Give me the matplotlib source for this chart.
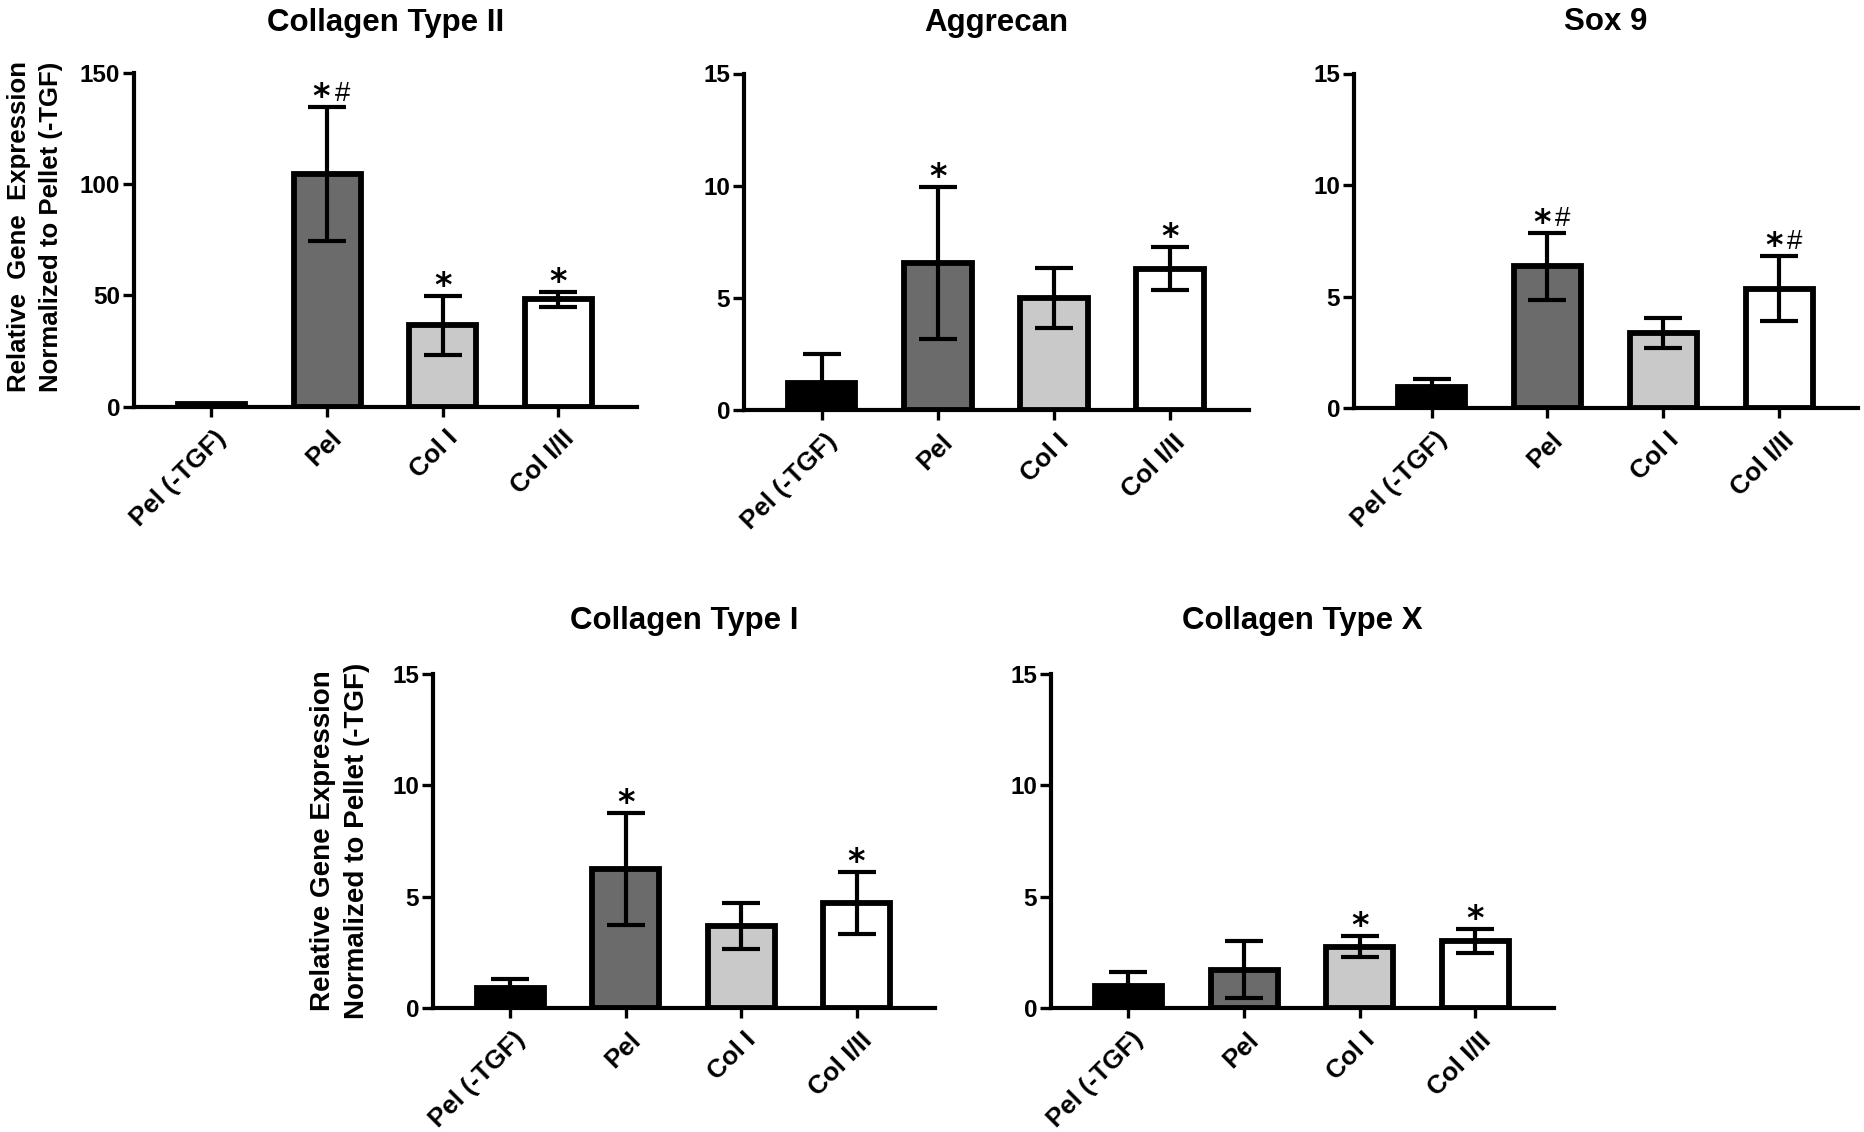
import matplotlib
matplotlib.use("Agg")
import matplotlib.pyplot as plt
from matplotlib.transforms import ScaledTranslation

plt.rcParams['font.family'] = ['Liberation Sans', 'DejaVu Sans']

categories = ['Pel (-TGF)', 'Pel', 'Col I', 'Col I/II']
bar_colors = ['#000000', '#6b6b6b', '#c9c9c9', '#ffffff']

col2_mean = [1.0, 104.5, 36.5, 48.2]
col2_err = [0.3, 30.0, 13.2, 3.5]
col2_sig = ['', '*#', '*', '*']

agg_mean = [1.2, 6.55, 5.0, 6.3]
agg_err = [1.3, 3.4, 1.35, 0.95]
agg_sig = ['', '*', '', '*']

sox9_mean = [0.92, 6.35, 3.35, 5.35]
sox9_err = [0.38, 1.5, 0.68, 1.45]
sox9_sig = ['', '*#', '', '*#']

col1_mean = [0.92, 6.25, 3.68, 4.72]
col1_err = [0.38, 2.5, 1.05, 1.4]
col1_sig = ['', '*', '', '*']

col10_mean = [0.98, 1.72, 2.76, 3.02]
col10_err = [0.62, 1.27, 0.48, 0.55]
col10_sig = ['', '', '*', '*']

yticks_big = [0, 50, 100, 150]
yticks_small = [0, 5, 10, 15]

W, H = 1864, 1132
fig = plt.figure(figsize=(W / 100, H / 100), dpi=100)


def add_ax(left, right, top, bottom):
    return fig.add_axes([left / W, 1 - bottom / H, (right - left) / W, (bottom - top) / H])


def panel(rect, title, title_base, means, errs, sigs, yticks):
    ax = add_ax(*rect)
    x = list(range(len(categories)))
    ax.bar(x, means, width=0.58, color=bar_colors, edgecolor='black',
           linewidth=4.2, zorder=2)
    ax.errorbar(x, means, yerr=errs, fmt='none', ecolor='black',
                elinewidth=3.0, capsize=13.5, capthick=3.0, zorder=3)
    ax.set_xlim(-0.67, 3.68)
    ax.set_ylim(0, yticks[-1])
    ax.set_yticks(yticks)
    ax.set_xticks(x)
    ax.set_xticklabels(categories, rotation=45, ha='right', va='top',
                       rotation_mode='anchor')
    for s in ['top', 'right']:
        ax.spines[s].set_visible(False)
    for s in ['left', 'bottom']:
        ax.spines[s].set_linewidth(3.0)
        ax.spines[s].set_zorder(4)
    ax.tick_params(axis='y', direction='out', length=8, width=2.4, pad=2,
                   labelsize=17.5)
    ax.tick_params(axis='x', direction='out', length=7.5, width=2.4, pad=6.5,
                   labelsize=18.7)
    for lab in ax.get_yticklabels():
        lab.set_fontweight('bold')
    off = ScaledTranslation(2 / 72, 0, fig.dpi_scale_trans)
    for lab in ax.get_xticklabels():
        lab.set_fontweight('bold')
        lab.set_transform(lab.get_transform() + off)
    for xi, m, e, s in zip(x, means, errs, sigs):
        top = m + e
        if s == '*':
            ax.annotate('*', xy=(xi, top), xytext=(0, 0), textcoords='offset points',
                        ha='center', va='baseline', fontsize=24, fontweight='bold',
                        family='DejaVu Sans', zorder=5)
        elif s == '*#':
            ax.annotate('*', xy=(xi, top), xytext=(-4, 0), textcoords='offset points',
                        ha='center', va='baseline', fontsize=24, fontweight='bold',
                        family='DejaVu Sans', zorder=5)
            ax.annotate('#', xy=(xi, top), xytext=(11, 5), textcoords='offset points',
                        ha='center', va='baseline', fontsize=20,
                        family='Liberation Sans', zorder=5)
    cx = (rect[0] + rect[1]) / 2
    fig.text(cx / W, 1 - title_base / H, title, ha='center', va='baseline',
             fontsize=22.5, fontweight='bold')
    return ax


panel((134, 637, 73, 406.5), 'Collagen Type II', 30.5, col2_mean, col2_err, col2_sig, yticks_big)
panel((744, 1249, 73.5, 410), 'Aggrecan', 30.5, agg_mean, agg_err, agg_sig, yticks_small)
panel((1354, 1858, 73.5, 408), 'Sox 9', 30.5, sox9_mean, sox9_err, sox9_sig, yticks_small)
panel((433, 935, 674, 1008), 'Collagen Type I', 629, col1_mean, col1_err, col1_sig, yticks_small)
panel((1051, 1554, 674, 1008), 'Collagen Type X', 629, col10_mean, col10_err, col10_sig, yticks_small)

fig.text(35 / W, 1 - 227 / H, 'Relative  Gene  Expression\nNormalized to Pellet (-TGF)',
         rotation=90, ha='center', va='center', fontsize=18.5, fontweight='bold',
         linespacing=1.45, multialignment='center')
fig.text(340 / W, 1 - 841 / H, 'Relative Gene Expression\nNormalized to Pellet (-TGF)',
         rotation=90, ha='center', va='center', fontsize=20, fontweight='bold',
         linespacing=1.4, multialignment='center')

fig.savefig('out.png', dpi=100, facecolor='white')
